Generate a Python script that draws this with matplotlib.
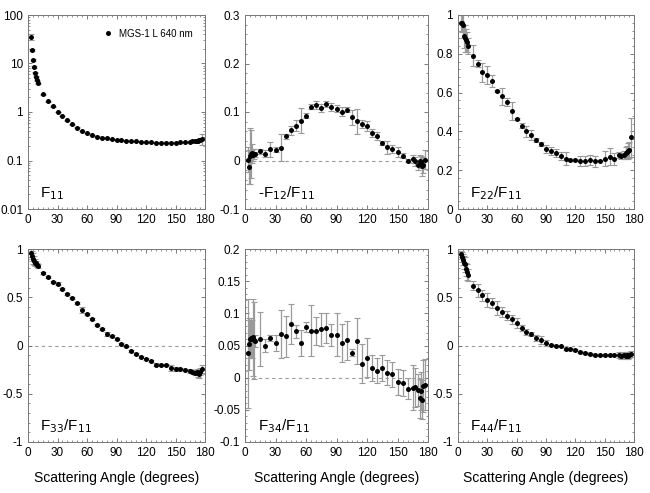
import numpy as np
import matplotlib
matplotlib.use("Agg")
import matplotlib.pyplot as plt
from matplotlib.ticker import MultipleLocator, FixedLocator, FuncFormatter, LogLocator, NullFormatter

plt.rcParams['font.family'] = ['Liberation Sans', 'DejaVu Sans']
plt.rcParams['axes.unicode_minus'] = False

# scattering angles (degrees)
angles = [3, 4, 5, 6, 7, 8, 9, 10, 15, 20, 25, 30, 35, 40, 45, 50, 55, 60, 65, 70,
          75, 80, 85, 90, 95, 100, 105, 110, 115, 120, 125, 130, 135, 140, 145, 150,
          155, 160, 165, 167, 170, 172, 173, 174, 175, 177]

f11 = [35, 19, 12, 8.5, 6.5, 5.3, 4.5, 3.9, 2.3, 1.65, 1.3, 1.0, 0.82, 0.67, 0.56, 0.47,
       0.41, 0.37, 0.335, 0.31, 0.295, 0.285, 0.275, 0.268, 0.262, 0.257, 0.252, 0.248,
       0.244, 0.24, 0.237, 0.235, 0.233, 0.232, 0.233, 0.235, 0.237, 0.24, 0.245, 0.248,
       0.252, 0.255, 0.258, 0.262, 0.27, 0.28]
f11_err = [5, 1, 0.5, 0.3, 0.2, 0.15, 0.1, 0.1, 0.05, 0.03, 0.02, 0.02, 0.01, 0.01, 0.01, 0.01,
           0.005, 0.005, 0.005, 0.005, 0.005, 0.005, 0.005, 0.005, 0.005, 0.005, 0.005, 0.005,
           0.005, 0.005, 0.005, 0.005, 0.005, 0.005, 0.005, 0.005, 0.005, 0.005, 0.005, 0.005,
           0.005, 0.008, 0.01, 0.01, 0.015, 0.075]

f12 = [0.002, -0.013, 0.01, 0.013, 0.015, 0.012, 0.014, 0.013, 0.019, 0.014, 0.023, 0.022,
       0.026, 0.05, 0.062, 0.072, 0.082, 0.092, 0.111, 0.114, 0.109, 0.116, 0.11, 0.107,
       0.101, 0.105, 0.089, 0.081, 0.076, 0.071, 0.057, 0.05, 0.036, 0.027, 0.023, 0.018,
       0.01, 0.0, 0.003, -0.002, -0.01, 0.0, -0.003, -0.012, -0.01, 0.002]
f12_err = [0.025, 0.035, 0.058, 0.05, 0.02, 0.012, 0.01, 0.005, 0.005, 0.007, 0.015, 0.005,
           0.028, 0.005, 0.01, 0.012, 0.026, 0.005, 0.005, 0.008, 0.008, 0.006, 0.008, 0.008,
           0.01, 0.005, 0.015, 0.026, 0.008, 0.01, 0.008, 0.008, 0.005, 0.014, 0.008, 0.01,
           0.005, 0.003, 0.008, 0.01, 0.01, 0.012, 0.012, 0.02, 0.015, 0.02]

f22 = [0.96, 0.96, 0.95, 0.89, 0.88, 0.87, 0.86, 0.84, 0.79, 0.75, 0.705, 0.69, 0.66, 0.61,
       0.58, 0.55, 0.505, 0.465, 0.43, 0.4, 0.38, 0.355, 0.335, 0.31, 0.3, 0.29, 0.275, 0.26,
       0.255, 0.252, 0.248, 0.248, 0.252, 0.245, 0.25, 0.26, 0.27, 0.258, 0.278, 0.275, 0.28,
       0.29, 0.295, 0.3, 0.305, 0.37]
f22_err = [0.04, 0.05, 0.07, 0.06, 0.07, 0.06, 0.05, 0.04, 0.055, 0.02, 0.05, 0.045, 0.03,
           0.005, 0.045, 0.02, 0.045, 0.005, 0.015, 0.03, 0.025, 0.01, 0.01, 0.02, 0.02, 0.02,
           0.02, 0.035, 0.005, 0.005, 0.025, 0.025, 0.025, 0.03, 0.005, 0.04, 0.045, 0.03,
           0.015, 0.015, 0.02, 0.03, 0.03, 0.04, 0.04, 0.1]

f33 = [0.96, 0.93, 0.9, 0.88, 0.86, 0.85, 0.83, 0.82, 0.75, 0.71, 0.66, 0.64, 0.59, 0.53,
       0.49, 0.44, 0.37, 0.33, 0.27, 0.21, 0.17, 0.12, 0.1, 0.07, 0.02, -0.01, -0.06, -0.09,
       -0.12, -0.14, -0.16, -0.2, -0.2, -0.2, -0.23, -0.24, -0.245, -0.255, -0.26, -0.27,
       -0.28, -0.27, -0.29, -0.3, -0.27, -0.24]
f33_err = [0.04, 0.05, 0.06, 0.05, 0.04, 0.03, 0.02, 0.02, 0.01, 0.01, 0.01, 0.015, 0.01,
           0.01, 0.01, 0.015, 0.03, 0.01, 0.01, 0.01, 0.01, 0.02, 0.01, 0.01, 0.01, 0.01,
           0.01, 0.01, 0.01, 0.01, 0.01, 0.015, 0.01, 0.01, 0.03, 0.02, 0.01, 0.01, 0.02,
           0.02, 0.03, 0.03, 0.04, 0.04, 0.04, 0.04]

f34 = [0.038, 0.052, 0.06, 0.062, 0.06, 0.063, 0.058, 0.057, 0.06, 0.05, 0.062, 0.054,
       0.068, 0.064, 0.083, 0.072, 0.054, 0.079, 0.073, 0.073, 0.075, 0.077, 0.066, 0.067,
       0.054, 0.058, 0.039, 0.057, 0.022, 0.031, 0.015, 0.011, 0.015, 0.008, 0.005, -0.007,
       -0.008, -0.017, -0.016, -0.015, -0.019, -0.032, -0.021, -0.034, -0.013, -0.011]
f34_err = [0.085, 0.04, 0.03, 0.03, 0.03, 0.06, 0.06, 0.01, 0.042, 0.01, 0.005, 0.012,
           0.037, 0.032, 0.031, 0.01, 0.02, 0.008, 0.04, 0.022, 0.026, 0.023, 0.017, 0.033,
           0.03, 0.03, 0.005, 0.035, 0.03, 0.03, 0.02, 0.02, 0.02, 0.02, 0.02, 0.02, 0.02,
           0.016, 0.035, 0.03, 0.025, 0.03, 0.03, 0.03, 0.04, 0.04]

f44 = [0.95, 0.92, 0.89, 0.86, 0.84, 0.79, 0.76, 0.73, 0.62, 0.57, 0.52, 0.47, 0.44, 0.39,
       0.35, 0.31, 0.27, 0.23, 0.18, 0.14, 0.12, 0.08, 0.06, 0.03, 0.01, 0.0, -0.01, -0.035,
       -0.04, -0.05, -0.065, -0.08, -0.09, -0.095, -0.095, -0.095, -0.1, -0.1, -0.1, -0.105,
       -0.1, -0.11, -0.1, -0.11, -0.1, -0.09]
f44_err = [0.03, 0.05, 0.06, 0.07, 0.08, 0.07, 0.08, 0.06, 0.05, 0.07, 0.06, 0.07, 0.05,
           0.07, 0.05, 0.05, 0.05, 0.05, 0.03, 0.03, 0.02, 0.03, 0.04, 0.03, 0.01, 0.01,
           0.01, 0.01, 0.01, 0.01, 0.01, 0.01, 0.01, 0.01, 0.01, 0.01, 0.01, 0.01, 0.03,
           0.03, 0.03, 0.03, 0.03, 0.03, 0.03, 0.03]

panel_labels = ['F$_{11}$', '-F$_{12}$/F$_{11}$', 'F$_{22}$/F$_{11}$',
                'F$_{33}$/F$_{11}$', 'F$_{34}$/F$_{11}$', 'F$_{44}$/F$_{11}$']
legend_label = 'MGS-1 L 640 nm'
xlabel = 'Scattering Angle (degrees)'

W, H = 650, 493
fig = plt.figure(figsize=(W / 100, H / 100), dpi=100)

# pixel boxes: left, right, top, bottom
boxes = [(28, 205, 15, 209), (245, 428, 15, 209), (458, 634, 15, 209),
         (28, 205, 249, 442), (245, 428, 249, 442), (458, 634, 249, 442)]
axes = []
for l, r, t, b in boxes:
    axes.append(fig.add_axes([l / W, 1 - b / H, (r - l) / W, (b - t) / H]))

series = [(f11, f11_err), (f12, f12_err), (f22, f22_err),
          (f33, f33_err), (f34, f34_err), (f44, f44_err)]
ylims = [(0.01, 100), (-0.1, 0.3), (0, 1), (-1, 1), (-0.1, 0.2), (-1, 1)]
ymajor = [None, 0.1, 0.2, 0.5, 0.05, 0.5]

fmt = FuncFormatter(lambda v, p: '%g' % round(v, 6))

for i, ax in enumerate(axes):
    y, e = series[i]
    if i == 0:
        ax.set_yscale('log')
    if i != 0 and i != 2:
        ax.axhline(0, color='#999999', lw=0.8, ls=(0, (3, 3)), zorder=1)
    ax.errorbar(angles, y, yerr=e, fmt='none', ecolor='#9a9a9a', elinewidth=0.9,
                capsize=2.2, capthick=0.8, zorder=2)
    ax.plot(angles, y, 'o', color='black', ms=3.6, mew=0, label=legend_label, zorder=3)
    ax.set_xlim(0, 180)
    ax.set_ylim(*ylims[i])
    ax.xaxis.set_major_locator(MultipleLocator(30))
    ax.xaxis.set_minor_locator(MultipleLocator(5))
    if i == 0:
        ax.yaxis.set_major_locator(FixedLocator([0.01, 0.1, 1, 10, 100]))
        ax.yaxis.set_minor_locator(LogLocator(base=10, subs=np.arange(2, 10)))
        ax.yaxis.set_minor_formatter(NullFormatter())
    else:
        ax.yaxis.set_major_locator(MultipleLocator(ymajor[i]))
        ax.yaxis.set_minor_locator(MultipleLocator(ymajor[i] / 5))
    ax.xaxis.set_major_formatter(fmt)
    ax.yaxis.set_major_formatter(fmt)
    ax.tick_params(which='both', direction='in', top=True, right=True,
                   labelsize=8.5, color='#666666')
    ax.tick_params(which='major', length=3, width=0.6, pad=3.5)
    ax.tick_params(which='minor', length=1.5, width=0.5)
    for s in ax.spines.values():
        s.set_color('#777777')
        s.set_linewidth(0.7)
    ax.text(0.07, 0.06, panel_labels[i], transform=ax.transAxes, fontsize=11,
            ha='left', va='baseline')
    if i >= 3:
        ax.set_xlabel(xlabel, fontsize=10, labelpad=9)

axes[0].legend(loc='upper right', frameon=False, fontsize=7, handletextpad=0.5,
               handlelength=1.2, bbox_to_anchor=(0.97, 0.965), borderaxespad=0.3,
               numpoints=1)

fig.savefig('out.png', dpi=100)
